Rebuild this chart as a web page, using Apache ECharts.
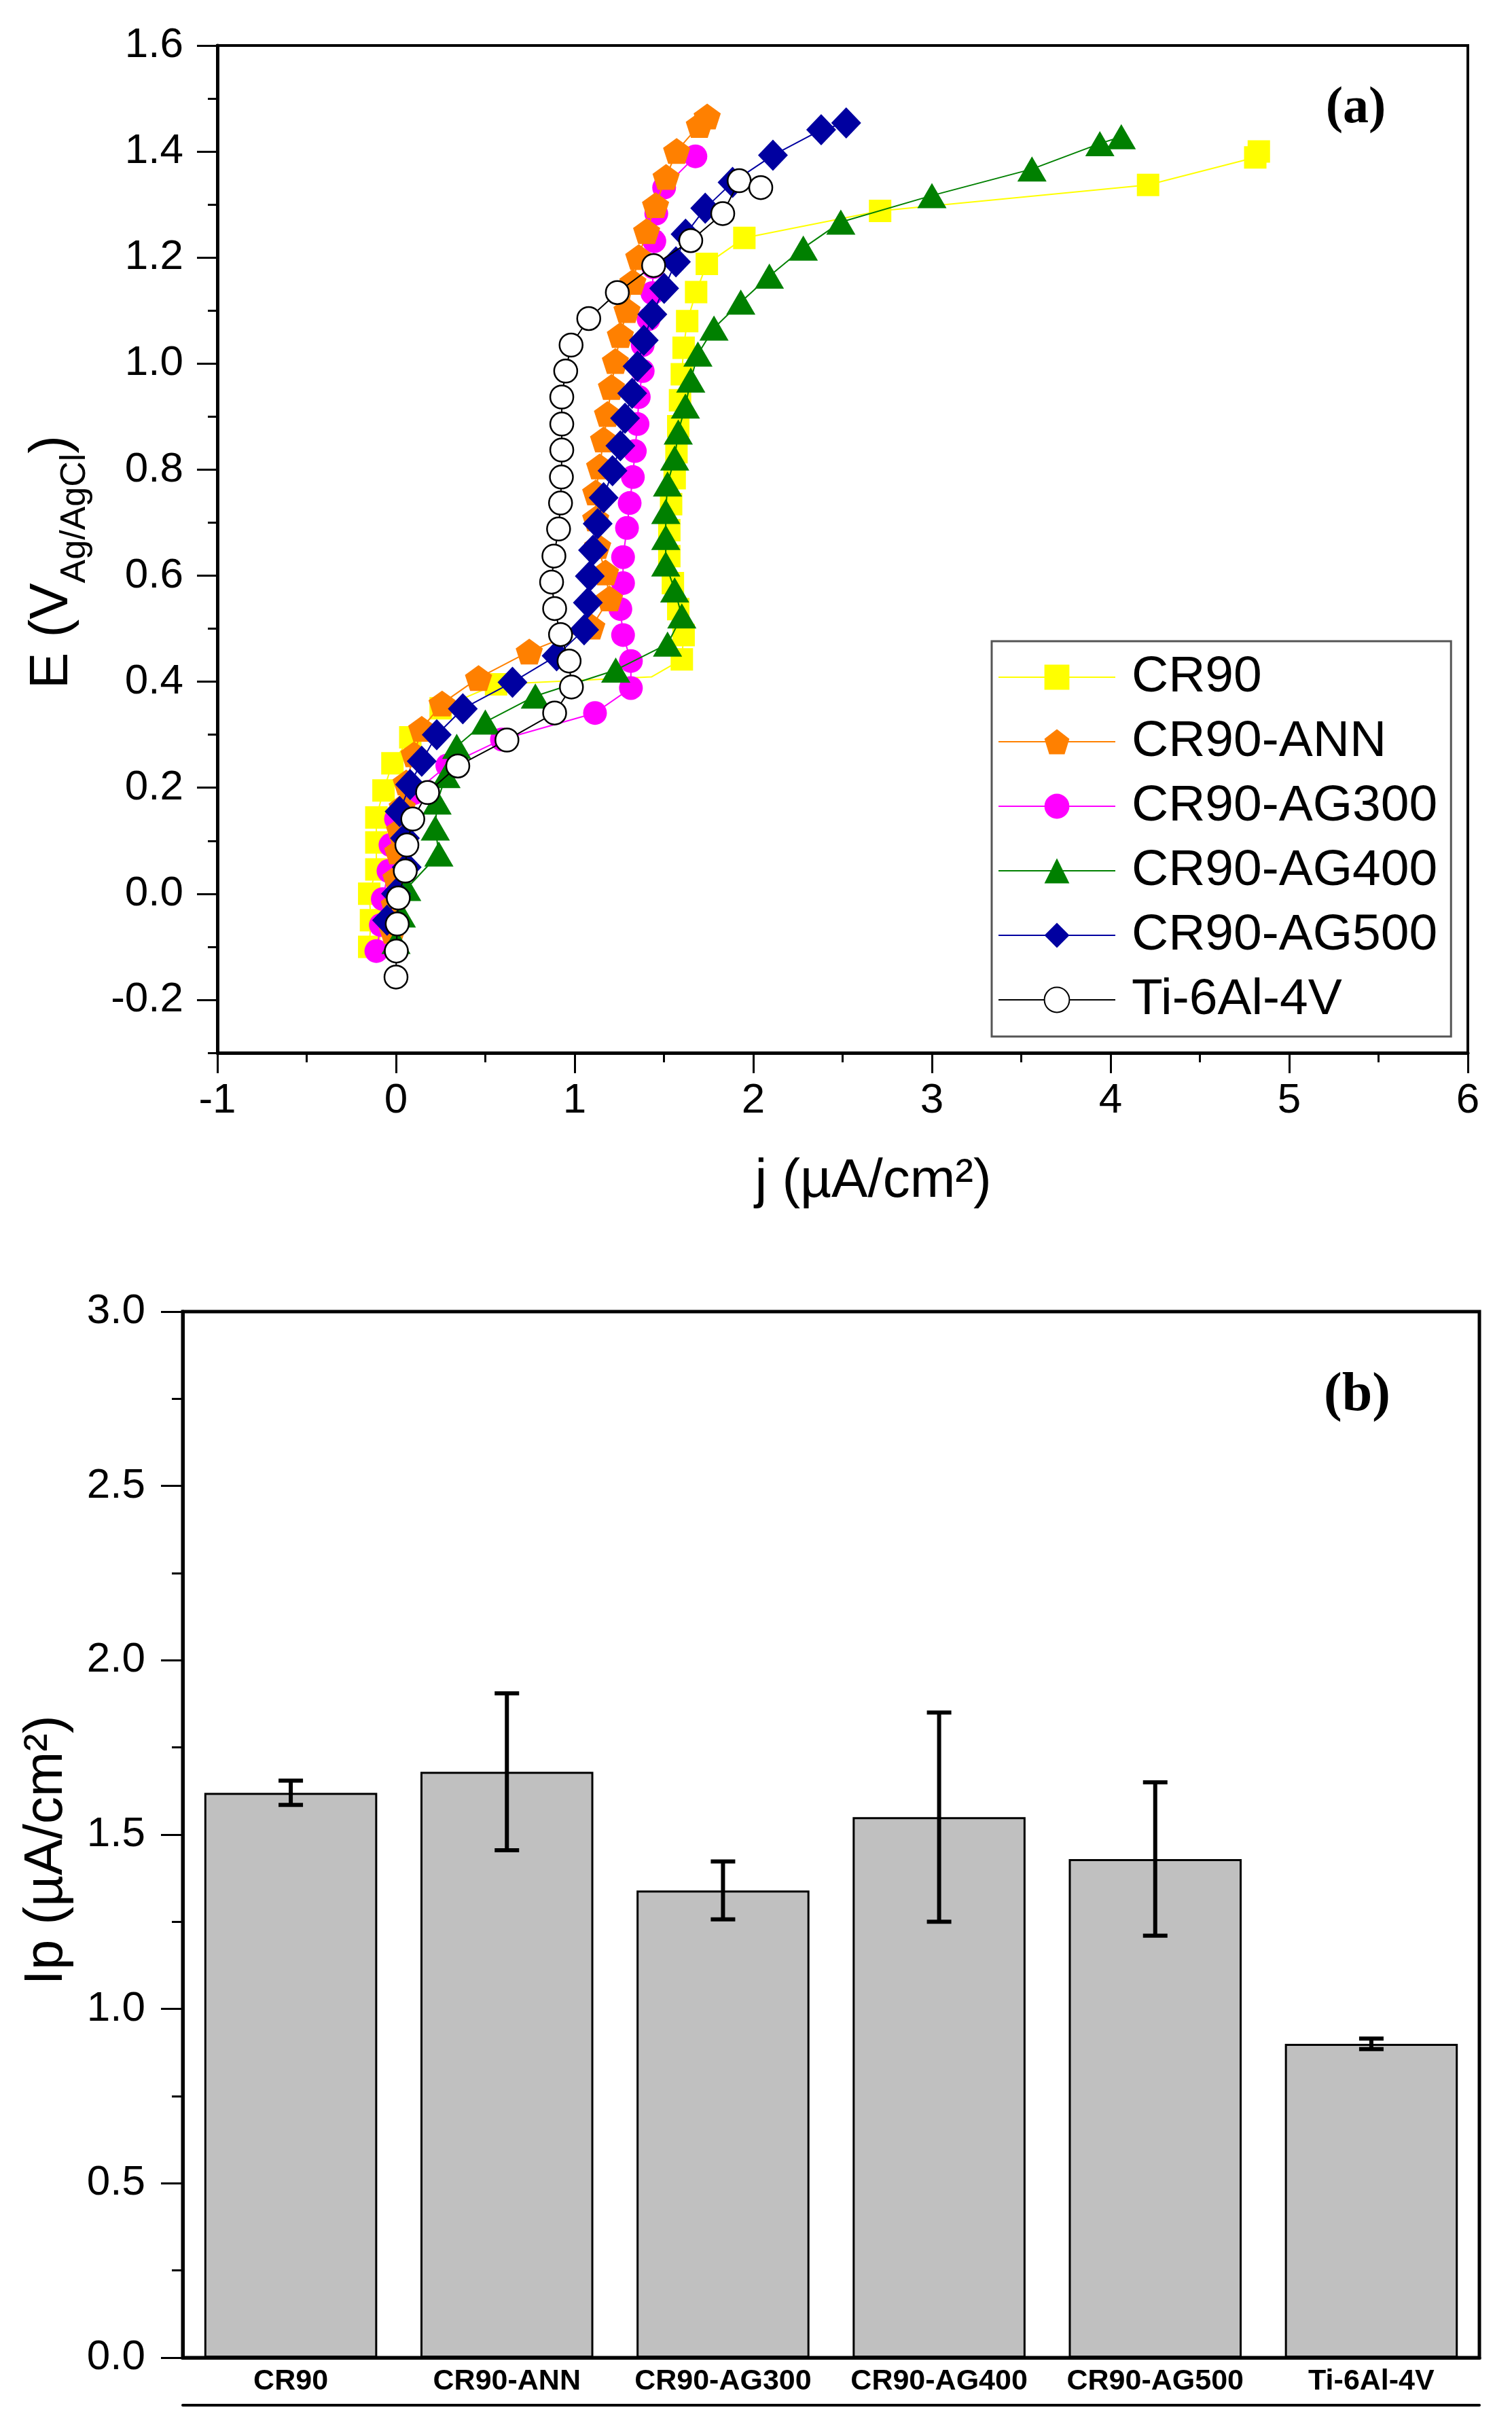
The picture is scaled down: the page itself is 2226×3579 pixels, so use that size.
<!DOCTYPE html>
<html>
<head>
<meta charset="utf-8">
<script src="https://cdn.jsdelivr.net/npm/echarts@6/dist/echarts.min.js"></script>
<style>
  html, body { margin: 0; padding: 0; background: #fff; }
  #chart { width: 2226px; height: 3579px; }
</style>
</head>
<body>
<div id="chart"></div>
<script>
// ---- (a) polarisation curves: [j (uA/cm2), E (V)]; a third 0 means line point without marker
const cr90 = [
  [-0.15, -0.10], [-0.14, -0.05], [-0.15, 0.00], [-0.11, 0.046], [-0.11, 0.097], [-0.11, 0.144],
  [-0.07, 0.195], [-0.02, 0.246], [0.08, 0.295], [0.25, 0.35], [0.56, 0.395], [1.43, 0.409, 0],
  [1.60, 0.442], [1.61, 0.488], [1.58, 0.537], [1.55, 0.586], [1.53, 0.637], [1.53, 0.686],
  [1.54, 0.735], [1.56, 0.784], [1.57, 0.833], [1.58, 0.882], [1.59, 0.931], [1.60, 0.98],
  [1.61, 1.03], [1.63, 1.08], [1.68, 1.135], [1.74, 1.188], [1.95, 1.237], [2.71, 1.288],
  [4.21, 1.337], [4.81, 1.389], [4.83, 1.40]
];
const cr90Ann = [
  [-0.02, -0.07], [-0.01, -0.02], [0.0, 0.03], [0.01, 0.08], [0.02, 0.12], [0.035, 0.164],
  [0.057, 0.21], [0.101, 0.263], [0.144, 0.311], [0.258, 0.359], [0.462, 0.407], [0.746, 0.457],
  [1.096, 0.504], [1.195, 0.557], [1.173, 0.606], [1.129, 0.656], [1.118, 0.708], [1.118, 0.757],
  [1.14, 0.806], [1.162, 0.857], [1.184, 0.905], [1.206, 0.956], [1.228, 1.005], [1.256, 1.054],
  [1.293, 1.101], [1.326, 1.154], [1.359, 1.201], [1.403, 1.25], [1.453, 1.299], [1.512, 1.352],
  [1.571, 1.401], [1.698, 1.45], [1.742, 1.466]
];
const cr90Ag300 = [
  [-0.11, -0.108], [-0.085, -0.059], [-0.074, -0.01], [-0.042, 0.043], [-0.031, 0.092], [0.0, 0.141],
  [0.1, 0.19], [0.287, 0.242], [0.593, 0.291], [1.114, 0.341], [1.315, 0.388], [1.315, 0.439],
  [1.271, 0.488], [1.256, 0.537], [1.271, 0.586], [1.271, 0.635], [1.293, 0.69], [1.308, 0.737],
  [1.326, 0.786], [1.337, 0.835], [1.352, 0.886], [1.359, 0.937], [1.381, 0.986], [1.381, 1.035],
  [1.414, 1.084], [1.435, 1.133], [1.44, 1.182], [1.446, 1.231], [1.457, 1.283], [1.501, 1.332],
  [1.676, 1.391]
];
const cr90Ag400 = [
  [0.0, -0.09], [0.03, -0.04], [0.06, 0.01], [0.24, 0.075], [0.22, 0.124], [0.23, 0.173],
  [0.28, 0.223], [0.34, 0.278], [0.50, 0.324], [0.78, 0.373], [1.23, 0.422], [1.52, 0.471],
  [1.60, 0.524], [1.56, 0.573], [1.51, 0.622], [1.51, 0.672], [1.51, 0.721], [1.52, 0.773],
  [1.56, 0.822], [1.58, 0.871], [1.62, 0.92], [1.65, 0.969], [1.69, 1.018], [1.78, 1.067],
  [1.93, 1.116], [2.09, 1.165], [2.28, 1.218], [2.49, 1.267], [3.00, 1.317], [3.56, 1.367],
  [3.94, 1.415], [4.06, 1.428]
];
const cr90Ag500 = [
  [-0.05, -0.05], [0.0, 0.0], [0.06, 0.05], [0.05, 0.105], [0.02, 0.155], [0.079, 0.206],
  [0.144, 0.25], [0.228, 0.3], [0.374, 0.349], [0.652, 0.399], [0.899, 0.449], [1.053, 0.498],
  [1.074, 0.549], [1.085, 0.599], [1.103, 0.648], [1.129, 0.698], [1.162, 0.747], [1.212, 0.798],
  [1.256, 0.845], [1.282, 0.897], [1.322, 0.944], [1.352, 0.995], [1.387, 1.044], [1.435, 1.093],
  [1.501, 1.142], [1.567, 1.192], [1.621, 1.244], [1.731, 1.293], [1.884, 1.342], [2.11, 1.393],
  [2.38, 1.441], [2.52, 1.454]
];
const ti64 = [
  [0.0, -0.157], [0.002, -0.108], [0.007, -0.057], [0.013, -0.008], [0.052, 0.043], [0.061, 0.092],
  [0.094, 0.141], [0.177, 0.191], [0.346, 0.241], [0.621, 0.29], [0.888, 0.341], [0.982, 0.39],
  [0.969, 0.439], [0.921, 0.489], [0.888, 0.538], [0.871, 0.588], [0.884, 0.637], [0.91, 0.688],
  [0.921, 0.737], [0.926, 0.786], [0.928, 0.837], [0.928, 0.886], [0.928, 0.937], [0.95, 0.986],
  [0.98, 1.035], [1.079, 1.085], [1.239, 1.134], [1.442, 1.185], [1.65, 1.232], [1.829, 1.283],
  [1.921, 1.345], [2.042, 1.332]
];
const eTicks = [-0.2, 0, 0.2, 0.4, 0.6, 0.8, 1.0, 1.2, 1.4, 1.6];

// ---- (b) passive current
const categories = ["CR90", "CR90-ANN", "CR90-AG300", "CR90-AG400", "CR90-AG500", "Ti-6Al-4V"];
const ipValues = [1.62, 1.68, 1.34, 1.55, 1.43, 0.90];
const ipErrors = [0.035, 0.225, 0.083, 0.30, 0.22, 0.015];

const FONT = "Liberation Sans";
const pentagon = "path://M50,0 L97.6,34.5 L79.4,90.5 L20.6,90.5 L2.4,34.5 Z";

const toPoints = (arr) =>
  arr.map((p) => (p.length > 2 ? { value: [p[0], p[1]], symbol: "none" } : p));

const lineSeries = (name, data, color, symbol, size, z) => ({
  name: name,
  type: "line",
  xAxisIndex: 0,
  yAxisIndex: 0,
  data: toPoints(data),
  symbol: symbol,
  symbolSize: size,
  showAllSymbol: true,
  z: z,
  lineStyle: { color: color, width: 2 },
  itemStyle: { color: color },
  emphasis: { disabled: true },
});

const chart = echarts.init(document.getElementById("chart"), null, { renderer: "canvas" });

const option = {
  animation: false,
  backgroundColor: "#fff",
  textStyle: { fontFamily: FONT, color: "#000" },
  grid: [
    { left: 320, top: 67, width: 1841, height: 1483, show: true, borderColor: "#000", borderWidth: 4, backgroundColor: "transparent" },
    { left: 269, top: 1931, width: 1909, height: 1540, show: true, borderColor: "#000", borderWidth: 5, backgroundColor: "transparent" },
  ],
  legend: {
    data: ["CR90", "CR90-ANN", "CR90-AG300", "CR90-AG400", "CR90-AG500", "Ti-6Al-4V"],
    orient: "vertical",
    left: 1460,
    top: 944,
    itemWidth: 172,
    itemHeight: 46,
    itemGap: 15,
    padding: [13, 20, 14, 9],
    borderColor: "#555",
    borderWidth: 3,
    backgroundColor: "#fff",
    textStyle: { fontSize: 75, lineHeight: 80, fontFamily: FONT, color: "#000", padding: [0, 0, 0, 19] },
  },
  xAxis: [
    {
      gridIndex: 0,
      type: "value",
      min: -1,
      max: 6,
      interval: 1,
      axisLine: { show: true, onZero: false, lineStyle: { color: "#000", width: 5 } },
      axisTick: { show: true, length: 30, lineStyle: { color: "#000", width: 3 } },
      minorTick: { show: true, splitNumber: 2, length: 14, lineStyle: { color: "#000", width: 3 } },
      axisLabel: { fontSize: 62, margin: 40, color: "#000", fontFamily: FONT },
      splitLine: { show: false },
      name: "j (µA/cm²)",
      nameLocation: "middle",
      nameGap: 150,
      nameTextStyle: { fontSize: 80, fontFamily: FONT, color: "#000", padding: [0, 0, 0, 90] },
    },
    {
      gridIndex: 1,
      type: "category",
      data: categories,
      position: "bottom",
      axisLine: { show: true, onZero: false, lineStyle: { color: "#000", width: 5 } },
      axisTick: { show: false },
      axisLabel: { interval: 0, fontSize: 43, fontWeight: "bold", margin: 14, color: "#000", fontFamily: FONT },
    },
    {
      gridIndex: 1,
      type: "category",
      data: categories,
      position: "bottom",
      offset: 70,
      axisLine: { show: true, onZero: false, lineStyle: { color: "#000", width: 4 } },
      axisTick: { show: false },
      axisLabel: { show: false },
    },
  ],
  yAxis: [
    {
      gridIndex: 0,
      type: "value",
      min: -0.3,
      max: 1.6,
      position: "left",
      axisLine: { show: true, onZero: false, lineStyle: { color: "#000", width: 5 } },
      axisTick: { show: true, length: 30, customValues: eTicks, lineStyle: { color: "#000", width: 3 } },
      axisLabel: {
        customValues: eTicks,
        formatter: (v) => v.toFixed(1),
        fontSize: 62,
        margin: 50,
        color: "#000",
        fontFamily: FONT,
      },
      splitLine: { show: false },
      name: "{a|E (V}{s|Ag/AgCl}{a|)}",
      nameLocation: "middle",
      nameGap: 183,
      nameTextStyle: {
        padding: [0, 38, 0, 0],
        rich: {
          a: { fontSize: 80, lineHeight: 100, verticalAlign: "top", fontFamily: FONT, color: "#000" },
          s: { fontSize: 52, lineHeight: 40, verticalAlign: "bottom", fontFamily: FONT, color: "#000" },
        },
      },
    },
    {
      // minor ticks every 0.1 V
      gridIndex: 0,
      type: "value",
      min: -0.3,
      max: 1.6,
      interval: 0.1,
      position: "left",
      axisLine: { show: false, onZero: false },
      axisTick: { show: true, length: 14, lineStyle: { color: "#000", width: 3 } },
      axisLabel: { show: false },
      splitLine: { show: false },
    },
    {
      gridIndex: 1,
      type: "value",
      min: 0,
      max: 3,
      interval: 0.5,
      position: "left",
      axisLine: { show: true, onZero: false, lineStyle: { color: "#000", width: 5 } },
      axisTick: { show: true, length: 32, lineStyle: { color: "#000", width: 3 } },
      minorTick: { show: true, splitNumber: 2, length: 16, lineStyle: { color: "#000", width: 3 } },
      axisLabel: { formatter: (v) => v.toFixed(1), fontSize: 62, margin: 55, color: "#000", fontFamily: FONT },
      splitLine: { show: false },
      name: "Ip (µA/cm²)",
      nameLocation: "middle",
      nameGap: 160,
      nameTextStyle: { fontSize: 80, fontFamily: FONT, color: "#000", padding: [0, 46, 0, 0] },
    },
  ],
  graphic: [
    { type: "text", x: 1996, y: 160, style: { text: "(a)", fontSize: 76, fontWeight: "bold", fontFamily: "Liberation Serif", fill: "#000", align: "center", verticalAlign: "middle" } },
    { type: "text", x: 1998, y: 2055, style: { text: "(b)", fontSize: 80, fontWeight: "bold", fontFamily: "Liberation Serif", fill: "#000", align: "center", verticalAlign: "middle" } },
  ],
  series: [
    lineSeries("CR90", cr90, "#FFFF00", "rect", 33, 2),
    lineSeries("CR90-AG300", cr90Ag300, "#FF00FF", "circle", 35, 3),
    lineSeries("CR90-ANN", cr90Ann, "#FF8000", pentagon, [40, 38], 4),
    lineSeries("CR90-AG400", cr90Ag400, "#008000", "triangle", [43, 37], 5),
    lineSeries("CR90-AG500", cr90Ag500, "#0000A0", "diamond", [44, 46], 6),
    Object.assign(lineSeries("Ti-6Al-4V", ti64, "#000000", "circle", 34, 7), {
      itemStyle: { color: "#fff", borderColor: "#000", borderWidth: 2.5 },
    }),
    {
      type: "bar",
      xAxisIndex: 1,
      yAxisIndex: 2,
      data: ipValues,
      barWidth: "80%",
      itemStyle: { color: "#C0C0C0", borderColor: "#000", borderWidth: 3 },
      emphasis: { disabled: true },
    },
    {
      type: "custom",
      xAxisIndex: 1,
      yAxisIndex: 2,
      z: 10,
      data: categories.map((c, i) => [i, ipValues[i] - ipErrors[i], ipValues[i] + ipErrors[i]]),
      encode: { x: 0, y: [1, 2] },
      renderItem: (params, api) => {
        const lo = api.coord([api.value(0), api.value(1)]);
        const hi = api.coord([api.value(0), api.value(2)]);
        const half = 18;
        const style = { stroke: "#000", lineWidth: 6 };
        return {
          type: "group",
          children: [
            { type: "line", shape: { x1: lo[0], y1: lo[1], x2: hi[0], y2: hi[1] }, style: style },
            { type: "line", shape: { x1: lo[0] - half, y1: lo[1], x2: lo[0] + half, y2: lo[1] }, style: style },
            { type: "line", shape: { x1: hi[0] - half, y1: hi[1], x2: hi[0] + half, y2: hi[1] }, style: style },
          ],
        };
      },
    },
  ],
};

chart.setOption(option);
</script>
</body>
</html>
